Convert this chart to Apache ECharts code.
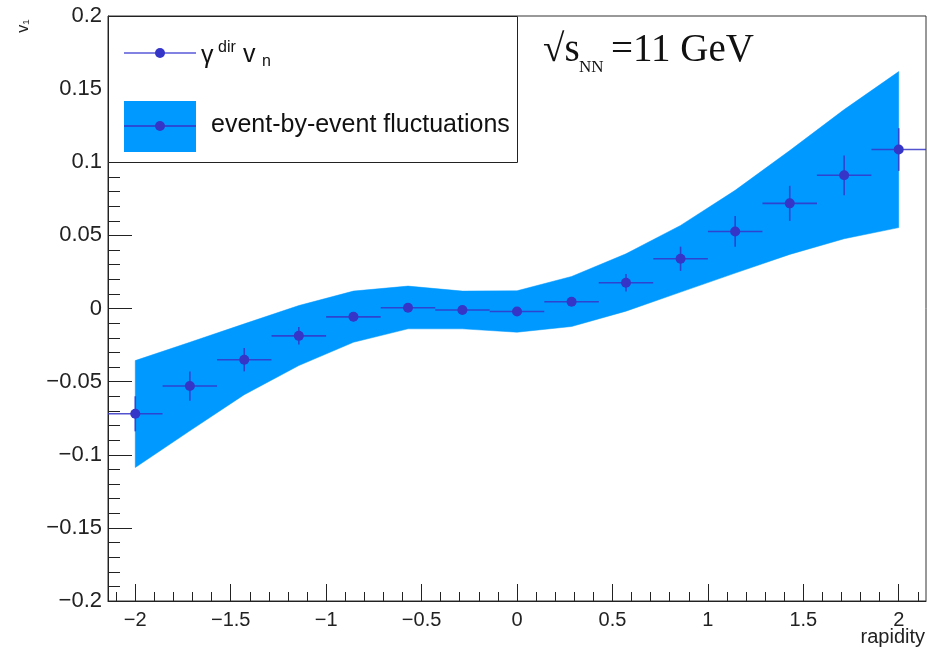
<!DOCTYPE html>
<html>
<head>
<meta charset="utf-8">
<script src="https://cdn.jsdelivr.net/npm/echarts@6/dist/echarts.min.js"></script>
<style>
  html, body { margin: 0; padding: 0; background: #ffffff; }
  #chart { width: 937px; height: 652px; }
</style>
</head>
<body>
<div id="chart"></div>
<script>
// ---- data ----
const rapidity = [-2, -1.714, -1.429, -1.143, -0.857, -0.571, -0.286, 0, 0.286, 0.571, 0.857, 1.143, 1.429, 1.714, 2];
const v1 = [-0.072, -0.053, -0.035, -0.0187, -0.0057, 0.0005, -0.001, -0.002, 0.0046, 0.0176, 0.034, 0.0527, 0.0719, 0.0911, 0.1087];
const v1Err = [0.012, 0.010, 0.008, 0.006, 0.003, 0.002, 0.002, 0.002, 0.002, 0.006, 0.0083, 0.0105, 0.012, 0.0136, 0.0146];
const rapidityHalfBin = [1/7, 1/7, 1/7, 1/7, 1/7, 1/7, 1/7, 1/7, 1/7, 1/7, 1/7, 1/7, 1/7, 1/7, 1/7];
const bandUpper = [-0.0356, -0.0231, -0.0105, 0.002, 0.0119, 0.0153, 0.0119, 0.0121, 0.0219, 0.0374, 0.0568, 0.0808, 0.108, 0.136, 0.162];
const bandLower = [-0.1087, -0.0836, -0.0589, -0.039, -0.0231, -0.0139, -0.0139, -0.0162, -0.0123, -0.0018, 0.0112, 0.0242, 0.037, 0.0477, 0.0553];
const xMajorTicks = [-2, -1.5, -1, -0.5, 0, 0.5, 1, 1.5, 2];
const xMinorTicks = [-2.1, -1.9, -1.8, -1.7, -1.6, -1.4, -1.3, -1.2, -1.1, -0.9, -0.8, -0.7, -0.6, -0.4, -0.3, -0.2, -0.1,
                     0.1, 0.2, 0.3, 0.4, 0.6, 0.7, 0.8, 0.9, 1.1, 1.2, 1.3, 1.4, 1.6, 1.7, 1.8, 1.9, 2.1];
const xRange = [-15/7, 15/7];
const yRange = [-0.2, 0.2];
const yTickStep = 0.05;
const legendLabels = ['event-by-event fluctuations'];
const energyLabel = ['√s', 'NN', '=11 GeV'];
const xAxisTitle = 'rapidity';

// ---- styles ----
const markerColor = '#3535c8';
const bandColor = '#0099ff';
const axisColor = '#222222';
const fmtMinus = v => String(+v.toFixed(3)).replace('-', '\u2212');

const chart = echarts.init(document.getElementById('chart'), null, { renderer: 'canvas' });

const bandData = rapidity.map((x, i) => [x, bandLower[i], bandUpper[i]]);
const pointData = rapidity.map((x, i) => [x, v1[i], v1Err[i], rapidityHalfBin[i]]);

const option = {
  animation: false,
  backgroundColor: '#ffffff',
  grid: {
    left: 108, right: 11, top: 16, bottom: 51,
    show: true, borderColor: '#333', borderWidth: 1, backgroundColor: 'transparent'
  },
  xAxis: [
    {
      type: 'value', min: xRange[0], max: xRange[1],
      axisLine: { show: true, onZero: false, lineStyle: { color: axisColor, width: 1 } },
      axisTick: { show: true, inside: true, length: 17, customValues: xMajorTicks, lineStyle: { color: axisColor } },
      axisLabel: {
        show: true, customValues: xMajorTicks, margin: 9,
        fontFamily: 'Liberation Sans, Arial, sans-serif', fontSize: 20, color: axisColor,
        formatter: v => fmtMinus(v)
      },
      splitLine: { show: false }
    },
    {
      type: 'value', min: xRange[0], max: xRange[1], position: 'bottom',
      axisLine: { show: false, onZero: false },
      axisTick: { show: true, inside: true, length: 9, customValues: xMinorTicks, lineStyle: { color: axisColor } },
      axisLabel: { show: false },
      splitLine: { show: false }
    }
  ],
  yAxis: {
    type: 'value', min: yRange[0], max: yRange[1], interval: yTickStep,
    axisLine: { show: true, onZero: false, lineStyle: { color: axisColor, width: 1 } },
    axisTick: { show: true, inside: true, length: 24, lineStyle: { color: axisColor } },
    minorTick: { show: true, splitNumber: 5, length: 12, lineStyle: { color: axisColor } },
    axisLabel: {
      margin: 6, fontFamily: 'Liberation Sans, Arial, sans-serif', fontSize: 22, color: axisColor,
      formatter: v => fmtMinus(v)
    },
    splitLine: { show: false }
  },
  series: [
    {
      name: 'band', type: 'custom', data: bandData, z: 1, silent: true,
      encode: { x: 0, y: [1, 2] },
      renderItem: function (params, api) {
        if (params.dataIndex !== 0) return null;
        const n = rapidity.length;
        const up = [], lo = [];
        for (let i = 0; i < n; i++) {
          up.push(api.coord([api.value(0, i), api.value(2, i)]));
          lo.push(api.coord([api.value(0, i), api.value(1, i)]));
        }
        const pts = up.concat(lo.reverse());
        return {
          type: 'polygon', shape: { points: pts },
          style: { fill: bandColor, stroke: bandColor, lineWidth: 0.5 }
        };
      }
    },
    {
      name: 'points', type: 'custom', data: pointData, z: 5,
      encode: { x: 0, y: 1 },
      renderItem: function (params, api) {
        const x = api.value(0), y = api.value(1), e = api.value(2), h = api.value(3);
        const c = api.coord([x, y]);
        const pL = api.coord([x - h, y]), pR = api.coord([x + h, y]);
        const pT = api.coord([x, y + e]), pB = api.coord([x, y - e]);
        const st = { stroke: markerColor, lineWidth: 1.6, opacity: 0.85 };
        return {
          type: 'group',
          children: [
            { type: 'line', shape: { x1: pL[0], y1: pL[1], x2: pR[0], y2: pR[1] }, style: st },
            { type: 'line', shape: { x1: pT[0], y1: pT[1], x2: pB[0], y2: pB[1] }, style: st },
            { type: 'circle', shape: { cx: c[0], cy: c[1], r: 5 }, style: { fill: markerColor } }
          ]
        };
      }
    }
  ],
  graphic: [
    // legend box
    { type: 'rect', shape: { x: 108.5, y: 16.5, width: 409, height: 146 },
      style: { fill: '#ffffff', stroke: '#222', lineWidth: 1 }, z: 10 },
    { type: 'line', shape: { x1: 124, y1: 53, x2: 196, y2: 53 },
      style: { stroke: '#5858d8', lineWidth: 1.6 }, z: 11 },
    { type: 'circle', shape: { cx: 160, cy: 53, r: 5 }, style: { fill: markerColor }, z: 11 },
    { type: 'text', x: 201, y: 56, z: 11,
      style: { text: 'γ', font: '25px "Liberation Sans", Arial, sans-serif', fill: '#111', verticalAlign: 'middle' } },
    { type: 'text', x: 218, y: 48, z: 11,
      style: { text: 'dir', font: '16px "Liberation Sans", Arial, sans-serif', fill: '#111', verticalAlign: 'middle' } },
    { type: 'text', x: 243, y: 55, z: 11,
      style: { text: 'v', font: '25px "Liberation Sans", Arial, sans-serif', fill: '#111', verticalAlign: 'middle' } },
    { type: 'text', x: 262, y: 62, z: 11,
      style: { text: 'n', font: '16px "Liberation Sans", Arial, sans-serif', fill: '#111', verticalAlign: 'middle' } },
    { type: 'rect', shape: { x: 124, y: 101, width: 72, height: 51 }, style: { fill: bandColor }, z: 11 },
    { type: 'line', shape: { x1: 124, y1: 126, x2: 196, y2: 126 },
      style: { stroke: markerColor, lineWidth: 1.6 }, z: 12 },
    { type: 'circle', shape: { cx: 160, cy: 126, r: 5 }, style: { fill: markerColor }, z: 12 },
    { type: 'text', x: 211, y: 125, z: 11,
      style: { text: legendLabels[0], font: '25px "Liberation Sans", Arial, sans-serif', fill: '#111', verticalAlign: 'middle' } },
    // energy label
    { type: 'text', x: 543, y: 51, z: 11,
      style: { text: energyLabel[0], font: '39px "Liberation Serif", "Times New Roman", serif', fill: '#111', verticalAlign: 'middle' } },
    { type: 'text', x: 579, y: 68, z: 11,
      style: { text: energyLabel[1], font: '17px "Liberation Serif", "Times New Roman", serif', fill: '#111', verticalAlign: 'middle' } },
    { type: 'text', x: 611, y: 51, z: 11,
      style: { text: energyLabel[2], font: '39px "Liberation Serif", "Times New Roman", serif', fill: '#111', verticalAlign: 'middle' } },
    // axis titles
    { type: 'text', x: 925, y: 637, z: 11,
      style: { text: xAxisTitle, font: '20px "Liberation Sans", Arial, sans-serif', fill: '#222', align: 'right', verticalAlign: 'middle' } },
    { type: 'text', x: 24, y: 26, rotation: Math.PI / 2, z: 11,
      style: { text: 'v₁', font: '16px "Liberation Sans", Arial, sans-serif', fill: '#222', align: 'center', verticalAlign: 'middle' } }
  ]
};

chart.setOption(option);
</script>
</body>
</html>
